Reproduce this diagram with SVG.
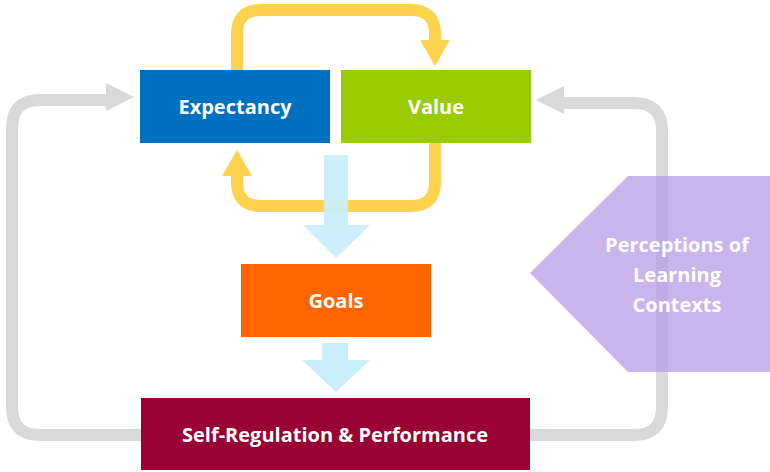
<svg xmlns="http://www.w3.org/2000/svg" width="770" height="472" viewBox="0 0 770 472">
<defs>
<style>
.t{font-family:"Open Sans","DejaVu Sans",sans-serif;font-weight:bold;font-size:20px;fill:#fff;text-anchor:middle}
.g{fill:none;stroke:#D9D9D9;stroke-width:12}
.y{fill:none;stroke:#FFD24D;stroke-width:12}
</style>
</defs>
<rect width="770" height="472" fill="#fff"/>
<g id="connectors">
<path class="g" d="M141,435 H40 Q12,435 12,407 V128 Q12,100 40,100 H110"/>
<polygon points="134,97 106,83 106,111" fill="#D9D9D9"/>
<path class="g" d="M530,435 H634 Q662,435 662,407 V131 Q662,103 634,103 H560"/>
<polygon points="536,100 564,86 564,114" fill="#D9D9D9"/>
<path class="y" d="M237,70 V34 Q237,10 261,10 H411 Q435,10 435,34 V42"/>
<polygon points="435,66 420,40 450,40" fill="#FFD24D"/>
<path class="y" d="M435,143 V182 Q435,206 411,206 H261 Q237,206 237,182 V174"/>
<polygon points="237,150 222,176 252,176" fill="#FFD24D"/>
<polygon points="324,155 348,155 348,225 370,225 336,258 303,225 324,225" fill="#C9EEFB" opacity="0.85"/>
<polygon points="322,343 348,343 348,360 370,360 336,392 302,360 322,360" fill="#C9EEFB"/>
</g>
<g id="expectancy"><rect x="140" y="70" width="190" height="73" fill="#0070C0"/><text class="t" x="235" y="114">Expectancy</text></g>
<g id="value"><rect x="341" y="70" width="190" height="73" fill="#99CC00"/><text class="t" x="436" y="114">Value</text></g>
<polygon points="324,155 348,155 348,225 370,225 336,258 303,225 324,225" fill="#C9EEFB" opacity="0.5"/>
<g id="goals"><rect x="241" y="264" width="190" height="73" fill="#FF6600"/><text class="t" x="336" y="308">Goals</text></g>
<g id="selfreg"><rect x="141" y="398" width="389" height="72" fill="#990033"/><text class="t" x="335" y="442">Self-Regulation &amp; Performance</text></g>
<g id="perceptions"><polygon points="530,273 628,176 770,176 770,372 628,372" fill="#B79CE6" opacity="0.75"/>
<text class="t" x="677" y="252">Perceptions of</text><text class="t" x="677" y="282">Learning</text><text class="t" x="677" y="312">Contexts</text></g>
</svg>
